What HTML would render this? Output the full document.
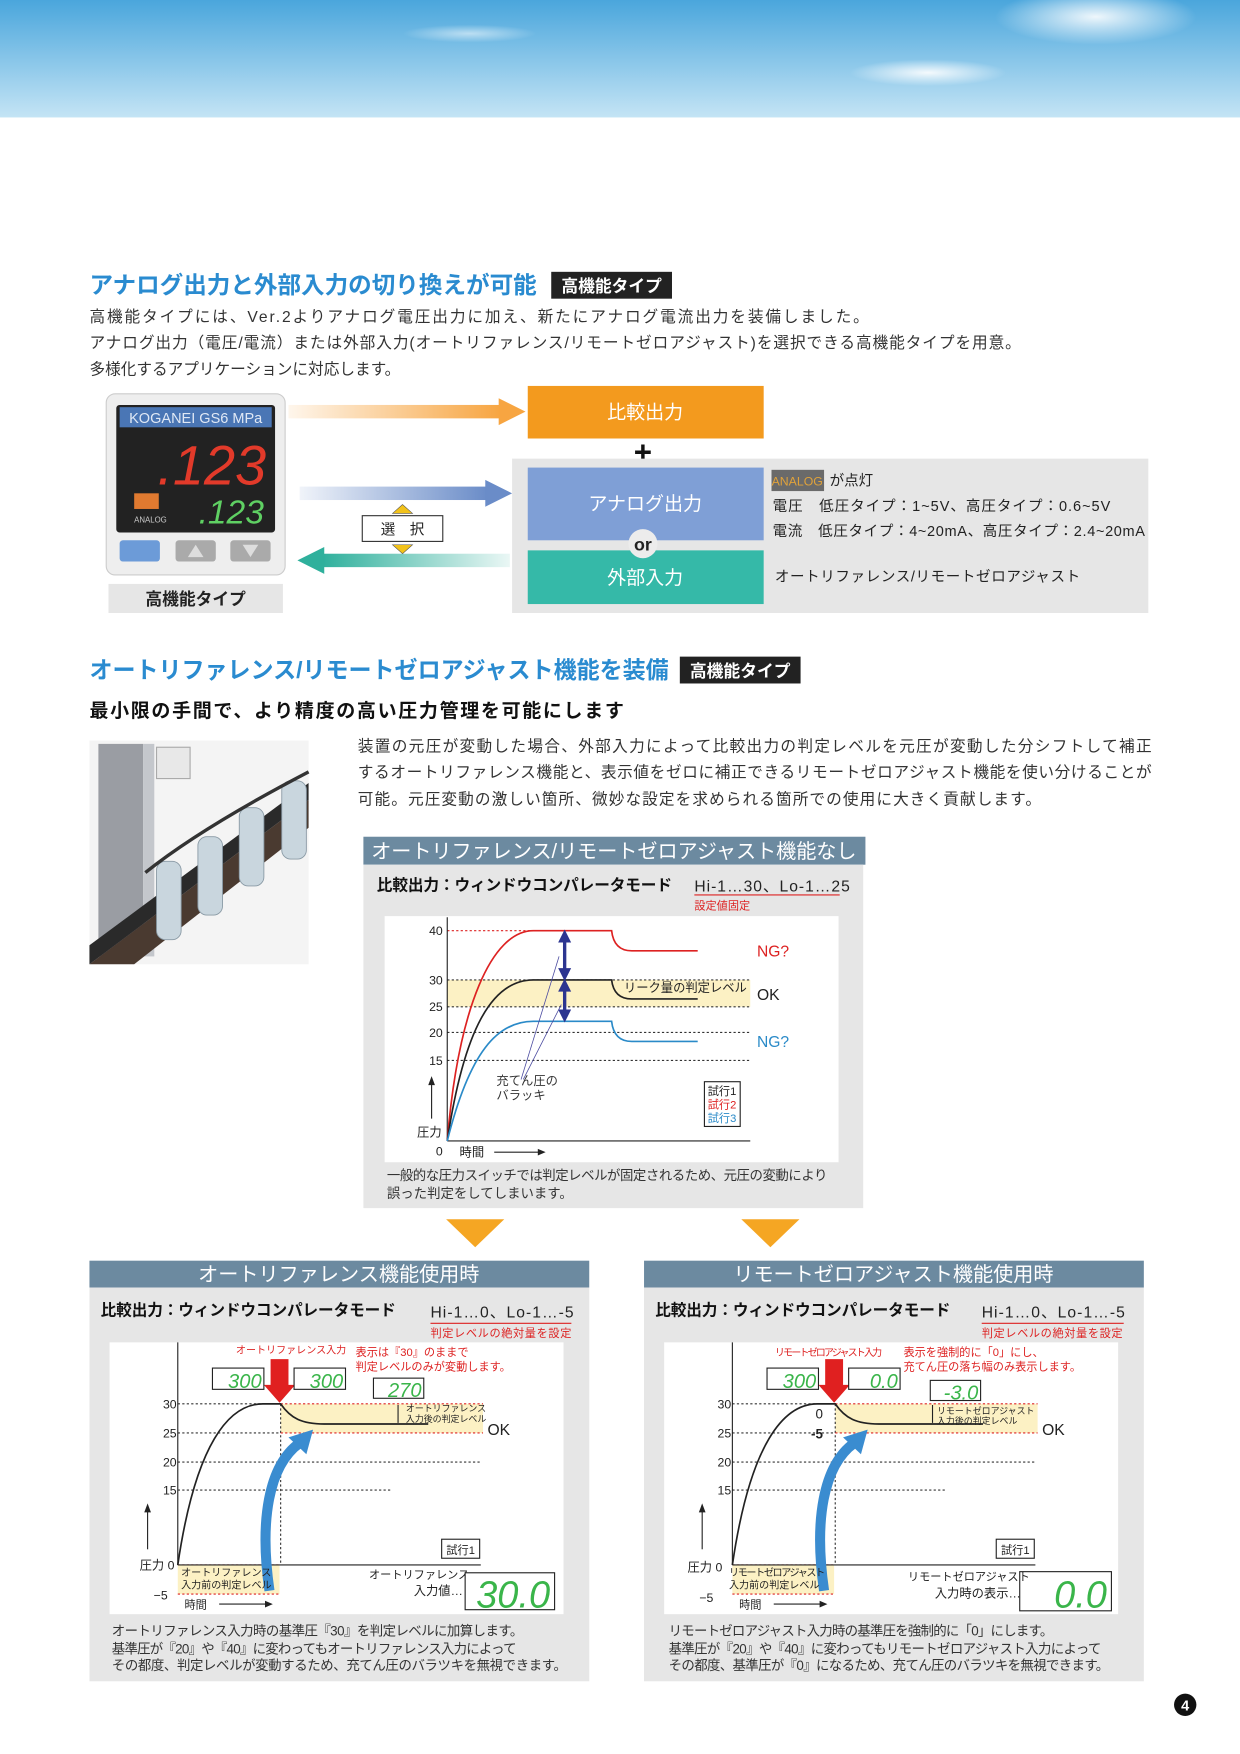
<!DOCTYPE html>
<html><head><meta charset="utf-8"><style>
html,body{margin:0;padding:0;background:#fff}
svg{display:block}
text{font-family:"Liberation Sans","Noto Sans CJK JP",sans-serif}
</style></head><body>
<svg width="1240" height="1754" viewBox="0 0 1109 1568" preserveAspectRatio="none" xmlns="http://www.w3.org/2000/svg">
<defs>
<linearGradient id="sky" x1="0" y1="0" x2="0" y2="1"><stop offset="0" stop-color="#4aa6dc"/><stop offset="1" stop-color="#c4e4f5"/></linearGradient>
<radialGradient id="cl" cx="0.5" cy="0.5" r="0.5"><stop offset="0" stop-color="#fff" stop-opacity=".9"/><stop offset="1" stop-color="#fff" stop-opacity="0"/></radialGradient>
<linearGradient id="go" x1="0" x2="1"><stop offset="0" stop-color="#f7a541" stop-opacity="0.1"/><stop offset="1" stop-color="#f7a541"/></linearGradient>
<linearGradient id="gb" x1="0" x2="1"><stop offset="0" stop-color="#6a8cc8" stop-opacity="0.1"/><stop offset="1" stop-color="#6a8cc8"/></linearGradient>
<linearGradient id="gt" x1="1" x2="0"><stop offset="0" stop-color="#2fb09c" stop-opacity="0.1"/><stop offset="1" stop-color="#2fb09c"/></linearGradient>
</defs>
<rect x="0" y="0" width="1109" height="105" fill="url(#sky)"/>
<ellipse cx="980" cy="15" rx="90" ry="25" fill="url(#cl)"/>
<ellipse cx="830" cy="65" rx="70" ry="12" fill="url(#cl)"/>
<ellipse cx="420" cy="30" rx="60" ry="8" fill="url(#cl)" opacity=".6"/>

<text x="80" y="262" font-size="21" fill="#2a8bd0" font-weight="bold" textLength="400" lengthAdjust="spacingAndGlyphs">アナログ出力と外部入力の切り換えが可能</text>
<rect x="493" y="243" width="108" height="24" fill="#222"/>
<text x="547" y="261" font-size="15" fill="#fff" font-weight="bold" text-anchor="middle">高機能タイプ</text>
<text x="80" y="288" font-size="14" fill="#333" textLength="697">高機能タイプには、Ver.2よりアナログ電圧出力に加え、新たにアナログ電流出力を装備しました。</text>
<text x="80" y="311" font-size="14" fill="#333" textLength="833">アナログ出力（電圧/電流）または外部入力(オートリファレンス/リモートゼロアジャスト)を選択できる高機能タイプを用意。</text>
<text x="80" y="335" font-size="14" fill="#333">多様化するアプリケーションに対応します。</text>

<rect x="95" y="352" width="160" height="162" rx="8" fill="#eeeeee" stroke="#ccc"/>
<rect x="104" y="362" width="142" height="114" rx="3" fill="#222"/>
<rect x="107" y="364" width="136" height="18" fill="#4a76b5"/>
<text x="175" y="378" font-size="13" fill="#dfe8f5" text-anchor="middle">KOGANEI GS6 MPa</text>
<text x="238" y="433" font-size="50" fill="#e23a2a" text-anchor="end" font-style="italic">.123</text>
<rect x="120" y="441" width="22" height="14" fill="#e07a30"/>
<text x="120" y="467" font-size="7" fill="#ccc">ANALOG</text>
<text x="236" y="468" font-size="30" fill="#5fd063" text-anchor="end" font-style="italic">.123</text>
<rect x="107" y="483" width="36" height="19" rx="3" fill="#6c9bd8"/>
<rect x="157" y="483" width="36" height="19" rx="3" fill="#aaa"/>
<rect x="206" y="483" width="36" height="19" rx="3" fill="#aaa"/>
<polygon points="175,487 168,498 182,498" fill="#ddd"/>
<polygon points="224,498 217,487 231,487" fill="#ddd"/>
<rect x="97" y="522" width="156" height="26" fill="#e6e6e6"/>
<text x="175" y="541" font-size="15" fill="#222" text-anchor="middle" font-weight="bold">高機能タイプ</text>

<rect x="258" y="362" width="190" height="12" fill="url(#go)"/>
<polygon points="446,356 470,368 446,380" fill="#f7a541"/>
<rect x="268" y="435" width="168" height="12" fill="url(#gb)"/>
<polygon points="434,429 458,441 434,453" fill="#6a8cc8"/>
<rect x="288" y="495" width="168" height="12" fill="url(#gt)"/>
<polygon points="290,489 266,501 290,513" fill="#2fb09c"/>
<polygon points="360,451 351,459 369,459" fill="#f2c21a" stroke="#555" stroke-width=".5"/>
<rect x="324" y="461" width="72" height="23" fill="#fff" stroke="#333"/>
<text x="360" y="478" font-size="13" text-anchor="middle" fill="#222">選　択</text>
<polygon points="360,495 351,487 369,487" fill="#f2c21a" stroke="#555" stroke-width=".5"/>

<rect x="472" y="345" width="211" height="47" fill="#f39a1e"/>
<text x="577" y="374" font-size="17" fill="#fff" text-anchor="middle">比較出力</text>
<text x="575" y="414" font-size="28" fill="#111" text-anchor="middle" font-weight="bold">+</text>
<rect x="458" y="410" width="569" height="138" fill="#e6e6e6"/>
<rect x="472" y="418" width="211" height="65" fill="#7f9fd6"/>
<text x="577" y="456" font-size="17" fill="#fff" text-anchor="middle">アナログ出力</text>
<rect x="472" y="492" width="211" height="48" fill="#35b9a8"/>
<text x="577" y="522" font-size="17" fill="#fff" text-anchor="middle">外部入力</text>
<circle cx="575" cy="486" r="13" fill="#ececec"/>
<text x="575" y="492" font-size="16" fill="#222" text-anchor="middle" font-weight="bold">or</text>
<rect x="690" y="420" width="47" height="19" fill="#6a6a6a"/>
<text x="713" y="434" font-size="11" fill="#e0a23a" text-anchor="middle">ANALOG</text>
<text x="742" y="434" font-size="13" fill="#222">が点灯</text>
<text x="691" y="457" font-size="13" fill="#222" textLength="302">電圧　低圧タイプ：1~5V、高圧タイプ：0.6~5V</text>
<text x="691" y="479" font-size="13" fill="#222" textLength="333">電流　低圧タイプ：4~20mA、高圧タイプ：2.4~20mA</text>
<text x="693" y="520" font-size="13" fill="#222" textLength="273">オートリファレンス/リモートゼロアジャスト</text>

<text x="80" y="606" font-size="21" fill="#2a8bd0" font-weight="bold" textLength="518" lengthAdjust="spacingAndGlyphs">オートリファレンス/リモートゼロアジャスト機能を装備</text>
<rect x="608" y="587" width="108" height="24" fill="#222"/>
<text x="662" y="605" font-size="15" fill="#fff" font-weight="bold" text-anchor="middle">高機能タイプ</text>
<text x="80" y="641" font-size="17" fill="#111" font-weight="bold" textLength="478">最小限の手間で、より精度の高い圧力管理を可能にします</text>
<text x="320" y="672" font-size="14" fill="#333" textLength="710">装置の元圧が変動した場合、外部入力によって比較出力の判定レベルを元圧が変動した分シフトして補正</text>
<text x="320" y="695" font-size="14" fill="#333" textLength="710">するオートリファレンス機能と、表示値をゼロに補正できるリモートゼロアジャスト機能を使い分けることが</text>
<text x="320" y="719" font-size="14" fill="#333" textLength="611">可能。元圧変動の激しい箇所、微妙な設定を求められる箇所での使用に大きく貢献します。</text>

<rect x="80" y="662" width="196" height="200" fill="#f4f4f4"/>
<rect x="88" y="665" width="40" height="190" fill="#9a9da3"/>
<rect x="128" y="665" width="10" height="190" fill="#c4c7cc"/>
<polygon points="80,862 120,862 276,740 276,715" fill="#4a3a30"/>
<polygon points="80,862 80,845 276,700 276,715" fill="#2a2a2a"/>
<rect x="140" y="668" width="30" height="28" fill="#e8e8e8" stroke="#aaa"/>
<g fill="#c9d6de" stroke="#8a9aa5" stroke-width=".8">
<rect x="140" y="770" width="22" height="70" rx="8"/>
<rect x="177" y="748" width="22" height="70" rx="8"/>
<rect x="214" y="722" width="22" height="70" rx="8"/>
<rect x="252" y="698" width="22" height="70" rx="8"/>
</g>
<path d="M130 780 Q180 740 276 690" stroke="#333" stroke-width="3" fill="none"/>

<rect x="325" y="748" width="449" height="25" fill="#6c8aa0"/>
<text x="549" y="767" font-size="18" fill="#fff" text-anchor="middle" textLength="434">オートリファレンス/リモートゼロアジャスト機能なし</text>
<rect x="325" y="773" width="447" height="307" fill="#e6e6e6"/>
<text x="337" y="796" font-size="14" fill="#111" font-weight="bold" textLength="264">比較出力：ウィンドウコンパレータモード</text>
<text x="621" y="797" font-size="14" fill="#222" textLength="139">Hi-1…30、Lo-1…25</text>
<line x1="621" y1="800" x2="751" y2="800" stroke="#d22" stroke-width="1"/>
<text x="621" y="813" font-size="10" fill="#d22">設定値固定</text>
<rect x="344" y="819" width="406" height="220" fill="#fff"/>
<rect x="400" y="876" width="271" height="24" fill="#fcf1c4"/>
<g stroke="#333" stroke-dasharray="2,2" stroke-width="1">
<line x1="400" y1="876" x2="671" y2="876"/><line x1="400" y1="900" x2="671" y2="900"/>
<line x1="400" y1="923" x2="671" y2="923"/><line x1="400" y1="948" x2="671" y2="948"/>
</g>
<line x1="400" y1="832" x2="548" y2="832" stroke="#d22" stroke-dasharray="2,2"/>
<line x1="400" y1="820" x2="400" y2="1020" stroke="#222"/>
<line x1="400" y1="1020" x2="671" y2="1020" stroke="#222"/>
<g font-size="11" fill="#222" text-anchor="end"><text x="396" y="836">40</text><text x="396" y="880">30</text><text x="396" y="904">25</text><text x="396" y="927">20</text><text x="396" y="952">15</text><text x="396" y="1033">0</text></g>
<path d="M400 1020 C410 900 440 832 477 832 L547 832 Q549 850 565 850 L624 850" stroke="#d22" stroke-width="1.5" fill="none"/>
<path d="M400 1020 C415 920 440 876 477 876 L547 876 Q549 893 565 893 L624 893" stroke="#222" stroke-width="1.5" fill="none"/>
<path d="M400 1020 C420 940 445 913 477 913 L547 913 Q549 931 565 931 L624 931" stroke="#2a8ac8" stroke-width="1.5" fill="none"/>
<g fill="#2c3590" stroke="#2c3590"><line x1="505" y1="838" x2="505" y2="870" stroke-width="3"/><polygon points="505,832 500,842 510,842"/><polygon points="505,876 500,866 510,866"/>
<line x1="505" y1="882" x2="505" y2="907" stroke-width="3"/><polygon points="505,876 500,886 510,886"/><polygon points="505,913 500,903 510,903"/></g>
<line x1="466" y1="965" x2="500" y2="855" stroke="#4a4aa0" stroke-width=".7"/><line x1="468" y1="965" x2="502" y2="898" stroke="#4a4aa0" stroke-width=".7"/>
<text x="558" y="887" font-size="11" fill="#222">リーク量の判定レベル</text>
<text x="677" y="855" font-size="14" fill="#d22">NG?</text>
<text x="677" y="894" font-size="14" fill="#222">OK</text>
<text x="677" y="936" font-size="14" fill="#2a8ac8">NG?</text>
<text x="444" y="970" font-size="11" fill="#333">充てん圧の</text><text x="444" y="983" font-size="11" fill="#333">バラッキ</text>
<rect x="630" y="967" width="32" height="40" fill="#fff" stroke="#222"/>
<text x="633" y="979" font-size="10" fill="#222">試行1</text><text x="633" y="991" font-size="10" fill="#d22">試行2</text><text x="633" y="1003" font-size="10" fill="#2a8ac8">試行3</text>
<line x1="386" y1="1000" x2="386" y2="965" stroke="#222"/><polygon points="386,962 383,970 389,970" fill="#222"/>
<text x="373" y="1016" font-size="11" fill="#222">圧力</text>
<text x="411" y="1034" font-size="11" fill="#222">時間</text>
<line x1="442" y1="1030" x2="484" y2="1030" stroke="#222"/><polygon points="488,1030 481,1027 481,1033" fill="#222"/>
<text x="346" y="1055" font-size="12" fill="#333" textLength="394">一般的な圧力スイッチでは判定レベルが固定されるため、元圧の変動により</text>
<text x="346" y="1071" font-size="12" fill="#333">誤った判定をしてしまいます。</text>

<polygon points="399,1090 451,1090 425,1115" fill="#f5a623"/>
<polygon points="663,1090 715,1090 689,1115" fill="#f5a623"/>

<g id="p2">
<rect x="80" y="1127" width="447" height="24" fill="#6c8aa0"/>
<rect x="80" y="1151" width="447" height="352" fill="#e6e6e6"/>
<rect x="98" y="1200" width="406" height="243" fill="#fff"/>
<rect x="251" y="1255" width="181" height="26" fill="#fcf1c4"/>
<rect x="159" y="1399" width="91" height="26" fill="#fcf1c4"/>
<g stroke="#333" stroke-dasharray="2,2"><line x1="159" y1="1255" x2="251" y2="1255"/><line x1="159" y1="1281" x2="251" y2="1281"/><line x1="159" y1="1307" x2="429" y2="1307"/><line x1="159" y1="1332" x2="350" y2="1332"/><line x1="251" y1="1255" x2="251" y2="1399"/></g>
<g stroke="#d22" stroke-dasharray="2,2"><line x1="251" y1="1255" x2="432" y2="1255"/><line x1="251" y1="1281" x2="432" y2="1281"/><line x1="159" y1="1399" x2="250" y2="1399"/><line x1="159" y1="1425" x2="250" y2="1425"/></g>
<line x1="159" y1="1200" x2="159" y2="1399" stroke="#222"/>
<line x1="159" y1="1399" x2="430" y2="1399" stroke="#222"/>
<path d="M159 1399 C175 1290 205 1255 235 1255 L251 1255 C260 1268 270 1273 290 1273 L383 1273" stroke="#222" stroke-width="1.5" fill="none"/>
<g font-size="11" fill="#222" text-anchor="end"><text x="158" y="1259">30</text><text x="158" y="1285">25</text><text x="158" y="1311">20</text><text x="158" y="1336">15</text></g>
<line x1="132" y1="1385" x2="132" y2="1348" stroke="#222"/><polygon points="132,1344 129,1352 135,1352" fill="#222"/>
<text x="165" y="1438" font-size="10" fill="#222">時間</text>
<line x1="196" y1="1434" x2="240" y2="1434" stroke="#222"/><polygon points="244,1434 237,1431 237,1437" fill="#222"/>
<path d="M241 1422 C232 1360 240 1310 268 1290" stroke="#3a8cd0" stroke-width="9" fill="none"/>
<polygon points="280,1278 258,1285 274,1300" fill="#3a8cd0"/>
<polygon points="242,1215 258,1215 258,1238 264,1238 250,1254 236,1238 242,1238" fill="#e02020"/>
<rect x="395" y="1376" width="34" height="17" fill="#fff" stroke="#222"/>
<text x="412" y="1389" font-size="10" fill="#222" text-anchor="middle">試行1</text>
<text x="436" y="1283" font-size="14" fill="#222">OK</text>
</g>
<use href="#p2" x="496"/>

<text x="303" y="1145" font-size="18" fill="#fff" text-anchor="middle">オートリファレンス機能使用時</text>
<text x="90" y="1176" font-size="14" fill="#111" font-weight="bold" textLength="264">比較出力：ウィンドウコンパレータモード</text>
<text x="385" y="1178" font-size="14" fill="#222" textLength="128">Hi-1…0、Lo-1…-5</text>
<line x1="385" y1="1183" x2="511" y2="1183" stroke="#d22"/>
<text x="385" y="1195" font-size="10" fill="#d22" textLength="126">判定レベルの絶対量を設定</text>
<text x="211" y="1210" font-size="9" fill="#d22">オートリファレンス入力</text>
<text x="318" y="1212" font-size="10" fill="#d22">表示は『30』のままで</text>
<text x="318" y="1225" font-size="10" fill="#d22">判定レベルのみが変動します。</text>
<rect x="190" y="1223" width="46" height="19" fill="#fff" stroke="#222"/><text x="234" y="1241" font-size="18" fill="#3ab54a" text-anchor="end" font-style="italic">300</text>
<rect x="263" y="1223" width="46" height="19" fill="#fff" stroke="#222"/><text x="307" y="1241" font-size="18" fill="#3ab54a" text-anchor="end" font-style="italic">300</text>
<rect x="334" y="1232" width="45" height="18" fill="#fff" stroke="#222"/><text x="377" y="1249" font-size="18" fill="#3ab54a" text-anchor="end" font-style="italic">270</text>
<text x="363" y="1262" font-size="8" fill="#222">オートリファレンス</text><text x="363" y="1271" font-size="8" fill="#222">入力後の判定レベル</text>
<line x1="356" y1="1256" x2="356" y2="1272" stroke="#222"/>
<text x="156" y="1403" font-size="11" fill="#222" text-anchor="end">圧力 0</text>
<text x="150" y="1430" font-size="11" fill="#222" text-anchor="end">−5</text>
<text x="162" y="1409" font-size="9" fill="#222">オートリファレンス</text><text x="162" y="1420" font-size="9" fill="#222">入力前の判定レベル</text>
<text x="330" y="1411" font-size="10" fill="#222">オートリファレンス</text><text x="370" y="1426" font-size="11" fill="#222">入力値…</text>
<rect x="416" y="1406" width="80" height="33" fill="#fff" stroke="#222"/>
<text x="492" y="1437" font-size="34" fill="#3ab54a" text-anchor="end" font-style="italic">30.0</text>
<text x="100" y="1462" font-size="12" fill="#333" textLength="368">オートリファレンス入力時の基準圧『30』を判定レベルに加算します。</text>
<text x="100" y="1478" font-size="12" fill="#333" textLength="362">基準圧が『20』や『40』に変わってもオートリファレンス入力によって</text>
<text x="100" y="1493" font-size="12" fill="#333" textLength="407">その都度、判定レベルが変動するため、充てん圧のバラツキを無視できます。</text>

<rect x="912" y="1405" width="82" height="35" fill="#fff" stroke="#222"/>
<text x="990" y="1437" font-size="34" fill="#3ab54a" text-anchor="end" font-style="italic">0.0</text>
<text x="799" y="1145" font-size="18" fill="#fff" text-anchor="middle">リモートゼロアジャスト機能使用時</text>
<text x="586" y="1176" font-size="14" fill="#111" font-weight="bold" textLength="264">比較出力：ウィンドウコンパレータモード</text>
<text x="878" y="1178" font-size="14" fill="#222" textLength="128">Hi-1…0、Lo-1…-5</text>
<line x1="878" y1="1183" x2="1005" y2="1183" stroke="#d22"/>
<text x="878" y="1195" font-size="10" fill="#d22" textLength="126">判定レベルの絶対量を設定</text>
<text x="693" y="1212" font-size="9" fill="#d22" textLength="96">リモートゼロアジャスト入力</text>
<text x="808" y="1212" font-size="10" fill="#d22">表示を強制的に「0」にし、</text>
<text x="808" y="1225" font-size="10" fill="#d22">充てん圧の落ち幅のみ表示します。</text>
<rect x="686" y="1223" width="46" height="19" fill="#fff" stroke="#222"/><text x="730" y="1241" font-size="18" fill="#3ab54a" text-anchor="end" font-style="italic">300</text>
<rect x="759" y="1223" width="46" height="19" fill="#fff" stroke="#222"/><text x="803" y="1241" font-size="18" fill="#3ab54a" text-anchor="end" font-style="italic">0.0</text>
<rect x="832" y="1234" width="45" height="18" fill="#fff" stroke="#222"/><text x="875" y="1251" font-size="18" fill="#3ab54a" text-anchor="end" font-style="italic">-3.0</text>
<text x="838" y="1264" font-size="8" fill="#222">リモートゼロアジャスト</text><text x="838" y="1273" font-size="8" fill="#222">入力後の判定レベル</text>
<line x1="834" y1="1256" x2="834" y2="1272" stroke="#222"/>
<text x="736" y="1268" font-size="12" fill="#222" text-anchor="end">0</text>
<text x="736" y="1286" font-size="12" fill="#222" text-anchor="end" font-weight="bold">-5</text>
<text x="646" y="1405" font-size="11" fill="#222" text-anchor="end">圧力 0</text>
<text x="638" y="1432" font-size="11" fill="#222" text-anchor="end">−5</text>
<text x="652" y="1409" font-size="9" fill="#222" textLength="86">リモートゼロアジャスト</text><text x="652" y="1420" font-size="9" fill="#222">入力前の判定レベル</text>
<text x="812" y="1413" font-size="10" fill="#222">リモートゼロアジャスト</text><text x="836" y="1428" font-size="11" fill="#222">入力時の表示…</text>
<text x="598" y="1462" font-size="12" fill="#333" textLength="344">リモートゼロアジャスト入力時の基準圧を強制的に「0」にします。</text>
<text x="598" y="1478" font-size="12" fill="#333" textLength="387">基準圧が『20』や『40』に変わってもリモートゼロアジャスト入力によって</text>
<text x="598" y="1493" font-size="12" fill="#333" textLength="394">その都度、基準圧が『0』になるため、充てん圧のバラツキを無視できます。</text>

<circle cx="1060" cy="1524" r="10" fill="#111"/>
<text x="1060" y="1529" font-size="13" fill="#fff" text-anchor="middle" font-weight="bold">4</text>
</svg>
</body></html>
